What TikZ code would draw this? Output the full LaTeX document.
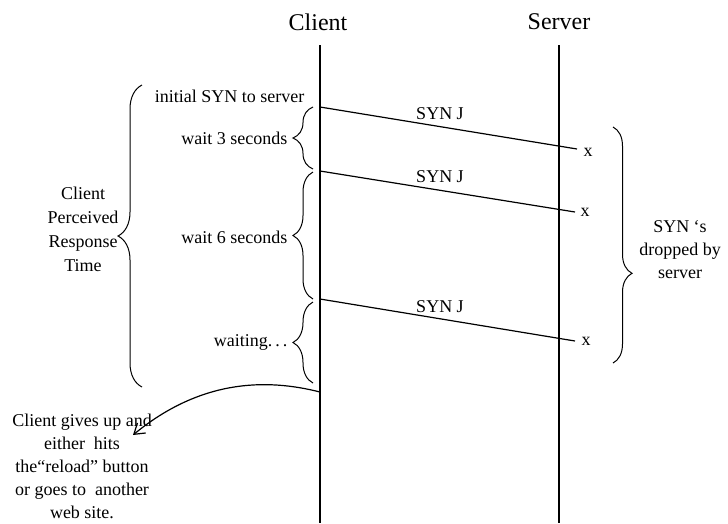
\documentclass[tikz,border=0pt]{standalone}
\usepackage{fontspec}
\setmainfont{Liberation Serif}
\newfontfamily\tnr{Liberation Serif}
\usetikzlibrary{decorations.pathreplacing,arrows.meta}
\begin{document}
\begin{tikzpicture}[x=1pt,y=-1pt,line width=1.1pt,
  lbl/.style={font=\tnr\fontsize{18}{23}\selectfont,inner sep=0pt},
  head/.style={font=\tnr\fontsize{24}{28}\selectfont,inner sep=0pt},
  curly/.style={line width=1pt,decorate,decoration={brace,amplitude=#1}},
  curlyat/.style 2 args={line width=1pt,decorate,decoration={brace,amplitude=#1,aspect=#2}},
  msg/.style={line width=1.2pt},
  giveup/.style={line width=1.2pt,-{Straight Barb[length=10pt,width=13pt,line width=1.2pt]}}]
\useasboundingbox (0,0) rectangle (728,523);

% time lines
\node[head] (client) at (318,22) {Client};
\node[head] (server) at (559,22) {Server};
\coordinate (ctop) at (320,45);
\coordinate (cbot) at (320,523);
\coordinate (stop) at (559,45);
\coordinate (sbot) at (559,523);
\draw (ctop) -- (cbot);
\draw (stop) -- (sbot);

% SYN messages, each lost at the server
\coordinate (s1) at (320,107);
\coordinate (e1) at (577,149);
\node[lbl] (x1) at (588,152) {x};
\draw[msg] (s1) -- (e1);
\node[lbl] (m1) at (440,114) {SYN J};

\coordinate (s2) at (320,171);
\coordinate (e2) at (575,212);
\node[lbl] (x2) at (585,212) {x};
\draw[msg] (s2) -- (e2);
\node[lbl] (m2) at (440,177) {SYN J};

\coordinate (s3) at (320,299);
\coordinate (e3) at (575,341);
\node[lbl] (x3) at (586,341) {x};
\draw[msg] (s3) -- (e3);
\node[lbl] (m3) at (440,307) {SYN J};

% client side labels
\node[lbl,anchor=east] (init) at (305,96) {initial SYN to server};

\coordinate (b1b) at (313,169);
\coordinate (b1t) at (313,107);
\draw[curly=20] (b1b) -- (b1t);
\node[lbl,anchor=east] (w3) at (288,138) {wait 3 seconds};

\coordinate (b2b) at (313,299);
\coordinate (b2t) at (313,172);
\draw[curly=20] (b2b) -- (b2t);
\node[lbl,anchor=east] (w6) at (288,237) {wait 6 seconds};

\coordinate (b3b) at (313,383);
\coordinate (b3t) at (313,302);
\draw[curly=20] (b3b) -- (b3t);
\node[lbl,anchor=east] (wt) at (288,342) {waiting.\,.\,.};

% overall response time
\coordinate (bbb) at (142,387);
\coordinate (bbt) at (142,85);
\draw[curly=24] (bbb) -- (bbt);
\node[lbl,align=center,font=\tnr\fontsize{18}{24}\selectfont] (cprt) at (83,229)
  {Client\\Perceived\\Response\\Time};

% dropped SYNs
\coordinate (rbt) at (613,127);
\coordinate (rbb) at (613,363);
\draw[curlyat={19}{0.62}] (rbt) -- (rbb);
\node[lbl,align=center] (drop) at (680,250) {SYN ‘s\\dropped by\\server};

% giving up
\coordinate (gstart) at (320,392);
\coordinate (gtip) at (133,435);
\node[lbl,align=center] (gtext) at (82,466)
  {Client gives up and\\either\ \ hits\\the“reload” button\\or goes to\ \ another\\web site.};
\draw[giveup] (gstart) .. controls (265,378) and (200,380) .. (gtip);
\end{tikzpicture}
\end{document}
